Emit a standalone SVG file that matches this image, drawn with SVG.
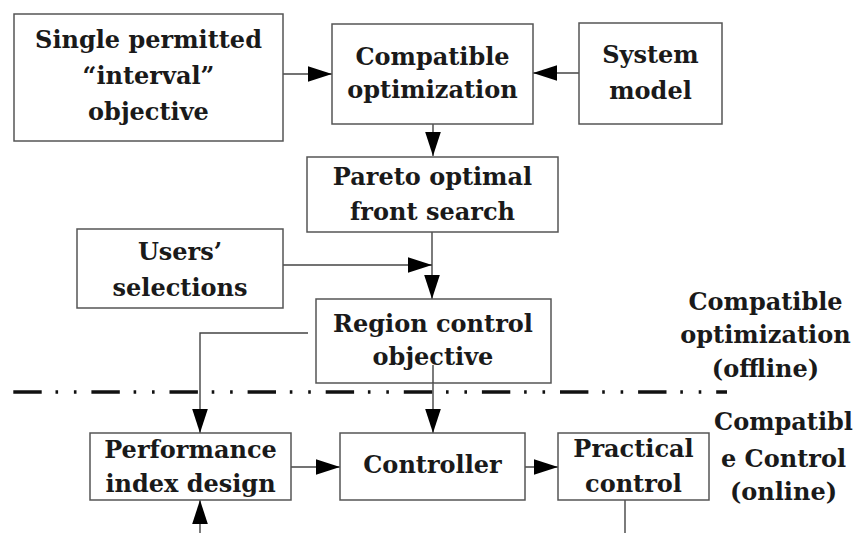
<svg xmlns="http://www.w3.org/2000/svg" width="857" height="533" viewBox="0 0 857 533">
<style>
.box{fill:#fff;stroke:#555;stroke-width:1.5}
.t{font-family:"DejaVu Serif","Liberation Serif",serif;font-weight:bold;font-size:24px;fill:#1a1a1a;text-anchor:middle}
.c{fill:none;stroke:#444;stroke-width:1.4}
.dash{fill:none;stroke:#111;stroke-width:3.5;stroke-dasharray:28.4 13.8 2.6 15.8 2.6 14.9}
</style>
<defs>
<marker id="ah" markerUnits="userSpaceOnUse" markerWidth="24" markerHeight="16" viewBox="0 0 23 15" refX="23" refY="7.5" orient="auto">
<path d="M0,0 L23,7.5 L0,15 Z" fill="#000"/>
</marker>
</defs>
<rect width="857" height="533" fill="#fff"/>
<g id="connectors">
<line class="c" x1="283" y1="74" x2="332" y2="74" marker-end="url(#ah)"/>
<line class="c" x1="579" y1="73" x2="533" y2="73" marker-end="url(#ah)"/>
<line class="c" x1="433" y1="124" x2="433" y2="156" marker-end="url(#ah)"/>
<line class="c" x1="432" y1="232" x2="432" y2="299" marker-end="url(#ah)"/>
<line class="c" x1="283" y1="265" x2="432" y2="265" marker-end="url(#ah)"/>
<polyline class="c" points="308,333 200,333 200,433" marker-end="url(#ah)"/>
<line class="c" x1="433" y1="365" x2="433" y2="433" marker-end="url(#ah)"/>
<line class="c" x1="291" y1="467" x2="340" y2="467" marker-end="url(#ah)"/>
<line class="c" x1="525" y1="467" x2="558" y2="467" marker-end="url(#ah)"/>
<line class="c" x1="200" y1="533" x2="200" y2="500" marker-end="url(#ah)"/>
<line class="c" x1="625" y1="500" x2="625" y2="533"/>
</g>
<line class="dash" x1="13.3" y1="392" x2="727" y2="392"/>
<g id="single">
<rect class="box" x="14" y="14" width="269" height="127"/>
<text class="t" x="148.5" y="48">Single permitted</text>
<text class="t" x="148.5" y="84">“interval”</text>
<text class="t" x="148.5" y="120">objective</text>
</g>
<g id="compat">
<rect class="box" x="332" y="24" width="201" height="100"/>
<text class="t" x="432.5" y="65">Compatible</text>
<text class="t" x="432.5" y="98">optimization</text>
</g>
<g id="system">
<rect class="box" x="579" y="23" width="143" height="101"/>
<text class="t" x="650.5" y="63">System</text>
<text class="t" x="650.5" y="99">model</text>
</g>
<g id="pareto">
<rect class="box" x="307" y="157" width="251" height="75"/>
<text class="t" x="432.5" y="185">Pareto optimal</text>
<text class="t" x="432.5" y="220">front search</text>
</g>
<g id="users">
<rect class="box" x="77" y="229" width="206" height="79"/>
<text class="t" x="180" y="260">Users’</text>
<text class="t" x="180" y="296">selections</text>
</g>
<g id="region">
<rect class="box" x="316" y="299" width="235" height="84"/>
<text class="t" x="433" y="332">Region control</text>
<text class="t" x="433" y="365">objective</text>
</g>
<line class="c" x1="433" y1="365" x2="433" y2="383"/>
<g id="performance">
<rect class="box" x="90" y="433" width="201" height="67"/>
<text class="t" x="190.5" y="458">Performance</text>
<text class="t" x="190.5" y="492">index design</text>
</g>
<g id="controller">
<rect class="box" x="340" y="433" width="185" height="67"/>
<text class="t" x="432.5" y="473">Controller</text>
</g>
<g id="practical">
<rect class="box" x="558" y="433" width="151" height="67"/>
<text class="t" x="633.5" y="457">Practical</text>
<text class="t" x="633.5" y="492">control</text>
</g>
<g id="label-offline">
<text class="t" x="765.5" y="310">Compatible</text>
<text class="t" x="765.5" y="343">optimization</text>
<text class="t" x="765.5" y="377">(offline)</text>
</g>
<g id="label-online">
<text class="t" x="783.5" y="430">Compatibl</text>
<text class="t" x="783.5" y="467">e Control</text>
<text class="t" x="783.5" y="500">(online)</text>
</g>
</svg>
